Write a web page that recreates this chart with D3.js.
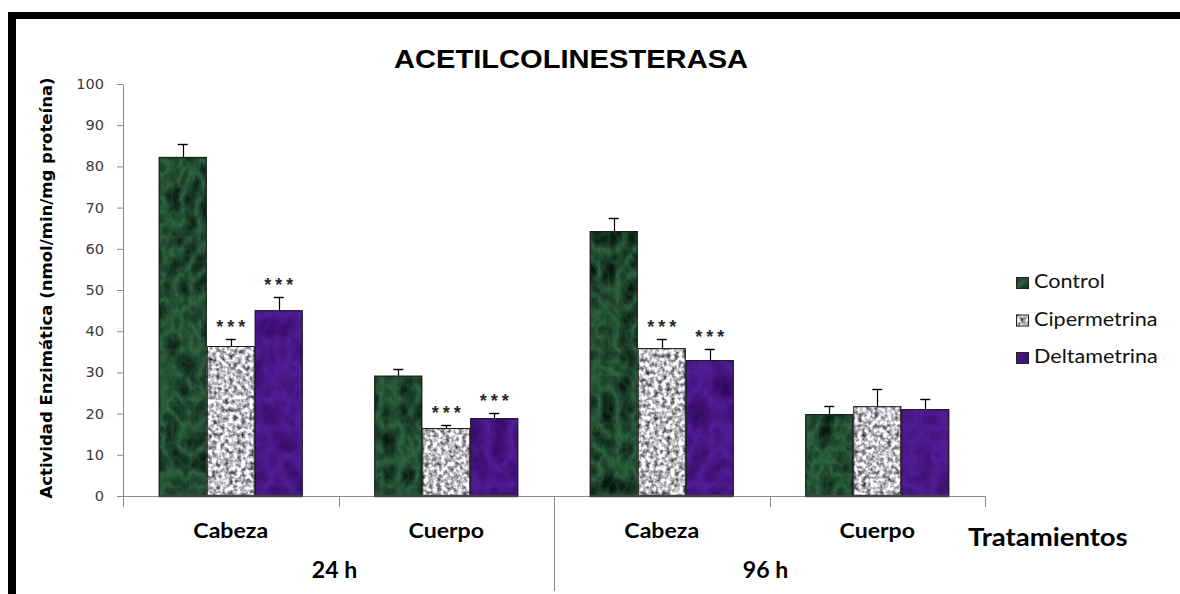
<!DOCTYPE html>
<html>
<head>
<meta charset="utf-8">
<script src="https://cdn.jsdelivr.net/npm/d3@7"></script>
<style>
  html, body { margin: 0; padding: 0; background: #fff; }
  svg { display: block; }
</style>
</head>
<body>
<svg id="chart" width="1180" height="594"></svg>
<script>
// ---- data ----
const groups = ["24 h", "96 h"];
const categories = ["Cabeza", "Cuerpo", "Cabeza", "Cuerpo"];
const seriesNames = ["Control", "Cipermetrina", "Deltametrina"];
const controlValues = [82.3, 29.2, 64.3, 19.9];
const controlErrors = [3.1, 1.6, 3.2, 1.9];
const cipermetrinaValues = [36.4, 16.5, 35.9, 21.8];
const cipermetrinaErrors = [1.7, 0.7, 2.2, 4.2];
const deltametrinaValues = [45.1, 18.9, 33.0, 21.1];
const deltametrinaErrors = [3.2, 1.2, 2.7, 2.4];
const cipermetrinaMarks = ["***", "***", "***", ""];
const deltametrinaMarks = ["***", "***", "***", ""];
const yTicks = [0, 10, 20, 30, 40, 50, 60, 70, 80, 90, 100];
const chartTitle = "ACETILCOLINESTERASA";
const yTitle = "Actividad Enzimática (nmol/min/mg proteína)";
const xTitle = "Tratamientos";

const series = [
  { name: seriesNames[0], values: controlValues, errors: controlErrors, marks: ["", "", "", ""], tex: "tex-control" },
  { name: seriesNames[1], values: cipermetrinaValues, errors: cipermetrinaErrors, marks: cipermetrinaMarks, tex: "tex-ciper" },
  { name: seriesNames[2], values: deltametrinaValues, errors: deltametrinaErrors, marks: deltametrinaMarks, tex: "tex-delta" }
];

// ---- layout ----
const W = 1180, H = 594;
const plot = { left: 123, right: 985, top: 84, bottom: 496 };
const SX = 1.12; // horizontal text widening

const svg = d3.select("#chart");
svg.append("rect").attr("width", W).attr("height", H).attr("fill", "#fff");

// ---- textures (deterministic SVG noise) ----
const defs = svg.append("defs");
function texture(id, type, freq, octaves, seed, matrix) {
  const f = defs.append("filter").attr("id", id)
    .attr("filterUnits", "userSpaceOnUse")
    .attr("x", 0).attr("y", 0).attr("width", W).attr("height", H)
    .attr("color-interpolation-filters", "sRGB");
  f.append("feTurbulence").attr("type", type).attr("baseFrequency", freq)
    .attr("numOctaves", octaves).attr("seed", seed).attr("result", "noise");
  f.append("feColorMatrix").attr("in", "noise").attr("type", "matrix")
    .attr("values", matrix).attr("result", "col");
  f.append("feComposite").attr("in", "col").attr("in2", "SourceGraphic").attr("operator", "in");
}
// green marble: light veins where turbulence is low
texture("tex-control", "turbulence", "0.055 0.04", 4, 7,
  "-0.22 0 0 0 0.19  -0.45 0 0 0 0.42  -0.3 0 0 0 0.27  0 0 0 0 1");
// grey granite: light ground with darker specks
texture("tex-ciper", "fractalNoise", "0.24", 2, 3,
  "1.6 0 0 0 -0.05  1.6 0 0 0 -0.05  1.6 0 0 0 -0.03  0 0 0 0 1");
// purple marble
texture("tex-delta", "turbulence", "0.045 0.035", 3, 11,
  "-0.16 0 0 0 0.33  -0.1 0 0 0 0.12  -0.28 0 0 0 0.61  0 0 0 0 1");

// ---- scales ----
const y = d3.scaleLinear().domain([0, 100]).range([plot.bottom, plot.top]);
const x0 = d3.scaleBand().domain(d3.range(categories.length)).range([plot.left, plot.right]);
const x1 = d3.scaleBand().domain(seriesNames).range([0, x0.bandwidth()])
  .paddingInner(0).paddingOuter(0.745);
const xg = d3.scaleBand().domain(groups).range([plot.left, plot.right]);

// ---- frame (thick top and left rules) ----
svg.append("rect").attr("x", 8).attr("y", 12).attr("width", W - 8).attr("height", 7).attr("fill", "#000");
svg.append("rect").attr("x", 8).attr("y", 12).attr("width", 8).attr("height", H - 12).attr("fill", "#000");

// ---- title ----
function textAt(sel, x, y, sx) {
  return sel.attr("transform", `translate(${x},${y}) scale(${sx},1)`);
}
textAt(svg.append("text"), 571, 68, SX)
  .attr("text-anchor", "middle")
  .attr("font-family", "'Liberation Sans', Arial, sans-serif")
  .attr("font-weight", "bold").attr("font-size", 26).attr("fill", "#000")
  .text(chartTitle);

// ---- y axis ----
const yAxis = svg.append("g").attr("transform", `translate(${plot.left},0)`)
  .call(d3.axisLeft(y).tickValues(yTicks).tickSize(6).tickSizeOuter(0).tickPadding(13));
yAxis.select(".domain").attr("stroke", "#8a8a8a");
yAxis.selectAll(".tick line").attr("stroke", "#8a8a8a");
yAxis.selectAll(".tick text")
  .attr("font-family", "'DejaVu Sans', Verdana, sans-serif")
  .attr("font-size", 14).attr("fill", "#3a3a3a")
  .attr("transform", `scale(${1.04},1)`)
  .attr("x", -19 / 1.04);

// y title
svg.append("text")
  .attr("transform", `translate(52,${(plot.top + plot.bottom) / 2 - 2}) rotate(-90)`)
  .attr("text-anchor", "middle")
  .attr("font-family", "'DejaVu Sans', Verdana, sans-serif")
  .attr("font-weight", "bold").attr("font-size", 16.5).attr("fill", "#000")
  .text(yTitle);

// ---- x axis: baseline with category boundary ticks ----
const xAxis = svg.append("g").attr("stroke", "#8a8a8a").attr("stroke-width", 1);
xAxis.append("line")
  .attr("x1", plot.left).attr("x2", plot.right)
  .attr("y1", y(0) + 0.5).attr("y2", y(0) + 0.5);
const boundaries = categories.map((c, i) => x0(i)).concat([plot.right]);
xAxis.selectAll("line.tick").data(boundaries).join("line").attr("class", "tick")
  .attr("x1", d => Math.round(d) + 0.5).attr("x2", d => Math.round(d) + 0.5)
  .attr("y1", y(0)).attr("y2", y(0) + 11);
// separator between time groups
xAxis.append("line")
  .attr("x1", Math.round(xg(groups[1])) + 0.5).attr("x2", Math.round(xg(groups[1])) + 0.5)
  .attr("y1", y(0)).attr("y2", 591);

// ---- bars ----
const barW = x1.bandwidth();
series.forEach(s => {
  const g = svg.append("g");
  const rows = categories.map((c, i) => ({ i, v: s.values[i], e: s.errors[i], m: s.marks[i] }));
  g.selectAll("rect.fill").data(rows).join("rect").attr("class", "fill")
    .attr("x", d => x0(d.i) + x1(s.name))
    .attr("y", d => y(d.v))
    .attr("width", barW)
    .attr("height", d => y(0) - y(d.v))
    .attr("fill", "#000")
    .attr("filter", `url(#${s.tex})`);
  g.selectAll("rect.edge").data(rows).join("rect").attr("class", "edge")
    .attr("x", d => x0(d.i) + x1(s.name) + 0.5)
    .attr("y", d => y(d.v) + 0.5)
    .attr("width", barW - 1)
    .attr("height", d => y(0) - y(d.v) - 1)
    .attr("fill", "none").attr("stroke", "#1a1a1a").attr("stroke-width", 1);
  // bottom edge
  g.selectAll("line.base").data(rows).join("line").attr("class", "base")
    .attr("x1", d => x0(d.i) + x1(s.name)).attr("x2", d => x0(d.i) + x1(s.name) + barW)
    .attr("y1", y(0)).attr("y2", y(0))
    .attr("stroke", "#444").attr("stroke-width", 2.5);
  // error bars (upper)
  const cx = d => x0(d.i) + x1(s.name) + barW / 2;
  g.selectAll("line.err").data(rows).join("line").attr("class", "err")
    .attr("x1", d => Math.round(cx(d)) + 0.5).attr("x2", d => Math.round(cx(d)) + 0.5)
    .attr("y1", d => y(d.v)).attr("y2", d => y(d.v + d.e))
    .attr("stroke", "#000").attr("stroke-width", 1.2);
  g.selectAll("line.cap").data(rows).join("line").attr("class", "cap")
    .attr("x1", d => cx(d) - 5).attr("x2", d => cx(d) + 5)
    .attr("y1", d => Math.round(y(d.v + d.e)) + 0.5).attr("y2", d => Math.round(y(d.v + d.e)) + 0.5)
    .attr("stroke", "#000").attr("stroke-width", 1.4);
  // significance marks
  g.selectAll("text.sig").data(rows.filter(d => d.m)).join("text").attr("class", "sig")
    .attr("x", d => cx(d) + 2)
    .attr("y", d => y(d.v + d.e) - 6)
    .attr("text-anchor", "middle")
    .attr("font-family", "'Liberation Sans', Arial, sans-serif")
    .attr("font-weight", "bold").attr("font-size", 18)
    .attr("letter-spacing", 4)
    .attr("fill", "#2a2a2a")
    .text(d => d.m);
});

// ---- category and group labels ----
categories.forEach((c, i) => {
  textAt(svg.append("text"), x0(i) + x0.bandwidth() / 2, 538, 1.1)
    .attr("text-anchor", "middle")
    .attr("font-family", "Lato, 'Open Sans', sans-serif")
    .attr("font-weight", "bold").attr("font-size", 21).attr("fill", "#000")
    .text(c);
});
groups.forEach(gname => {
  textAt(svg.append("text"), xg(gname) + xg.bandwidth() / 2 - 4, 578, 1.05)
    .attr("text-anchor", "middle")
    .attr("font-family", "Lato, 'Open Sans', sans-serif")
    .attr("font-weight", "bold").attr("font-size", 22).attr("fill", "#000")
    .text(gname);
});
textAt(svg.append("text"), 968, 546, 1.1)
  .attr("font-family", "Lato, 'Open Sans', sans-serif")
  .attr("font-weight", "bold").attr("font-size", 25).attr("fill", "#000")
  .text(xTitle);

// ---- legend ----
const legend = svg.append("g");
series.forEach((s, k) => {
  const base = 288 + k * 37.5;
  legend.append("rect")
    .attr("x", 1016).attr("y", base - 11).attr("width", 13).attr("height", 12)
    .attr("fill", "#000").attr("filter", `url(#${s.tex})`);
  legend.append("rect")
    .attr("x", 1016.5).attr("y", base - 10.5).attr("width", 12).attr("height", 11)
    .attr("fill", "none").attr("stroke", "#222");
  textAt(legend.append("text"), 1034, base, 1.08)
    .attr("font-family", "Lato, 'Open Sans', sans-serif")
    .attr("font-size", 20).attr("fill", "#111")
    .text(s.name);
});
</script>
</body>
</html>
